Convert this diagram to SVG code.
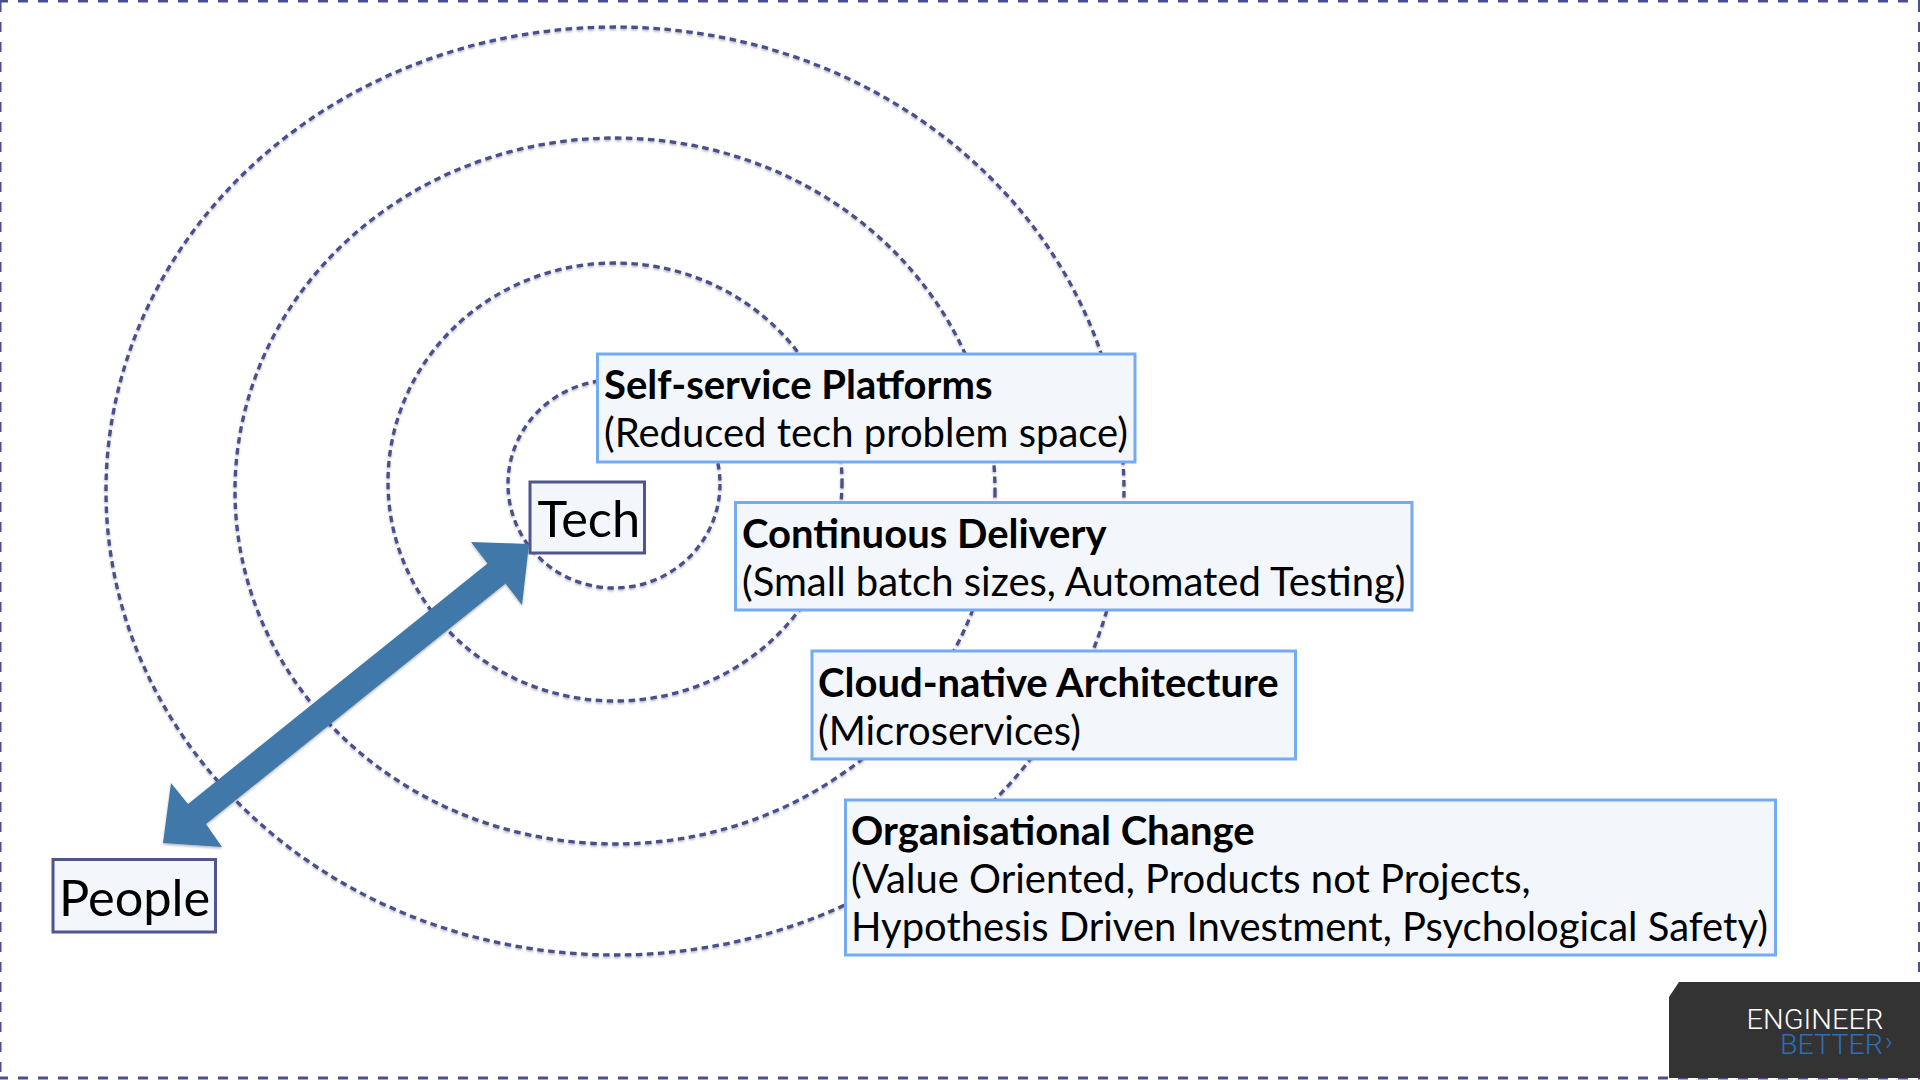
<svg xmlns="http://www.w3.org/2000/svg" width="1920" height="1080" viewBox="0 0 1920 1080">
<style>
.ring{fill:none;stroke:#4a4f8c;stroke-width:3.3;stroke-dasharray:6.5 4.5;filter:url(#s)}
.label{fill:#f3f6fb;stroke:#74abf2;stroke-width:3}
.term{fill:#f3f6fb;stroke:#50558f;stroke-width:3}
text{font-family:"Lato","Carlito","Liberation Sans",sans-serif;fill:#000}
.t{font-size:40px}
.b{font-weight:700}
.big{font-size:50.500px}
.logo{font-family:"Roboto","Liberation Sans",sans-serif;font-weight:300;font-size:28px}
</style>
<defs>
<filter id="s" x="-10%" y="-10%" width="120%" height="120%"><feDropShadow dx="0" dy="1.5" stdDeviation="1.2" flood-color="#000" flood-opacity="0.3"/></filter>
</defs>
<rect width="1920" height="1080" fill="#fff"/>
<path d="M-2,1H1920M0,2V1080M-2,1078H1920M1919.500,2V1080" fill="none" stroke="#4a4f8f" stroke-width="3" stroke-dasharray="10 10"/>
<g id="connectors">
<ellipse class="ring" cx="615" cy="491" rx="509" ry="464"/>
<ellipse class="ring" cx="615" cy="491" rx="380" ry="353"/>
<ellipse class="ring" cx="615" cy="482" rx="227" ry="219"/>
<ellipse class="ring" cx="614" cy="484" rx="106" ry="104"/>
<polygon points="529,544 522,605 505.500,583.500 206,824 222,847 163,843 171,783 188,804 487.500,563.500 471,542" fill="#4079a9" filter="url(#s)"/>
</g>
<g id="tech"><rect class="term" x="530" y="482" width="114.500" height="71"/><text class="big" x="537.500" y="537">Tech</text></g>
<g id="people"><rect class="term" x="53" y="859.500" width="162.500" height="72.500"/><text class="big" x="59" y="916">People</text></g>
<g id="self-service"><rect class="label" x="597.500" y="354" width="537.500" height="108"/><text class="t b" x="604" y="399">Self-service Platforms</text><text class="t" x="604" y="447">(Reduced tech problem space)</text></g>
<g id="continuous"><rect class="label" x="735.500" y="502.500" width="676.500" height="107.500"/><text class="t b" x="742" y="548">Continuous Delivery</text><text class="t" x="742" y="596">(Small batch sizes, Automated Testing)</text></g>
<g id="cloud"><rect class="label" x="812" y="651" width="483.500" height="108"/><text class="t b" x="818" y="697">Cloud-native Architecture</text><text class="t" x="818" y="745">(Microservices)</text></g>
<g id="org"><rect class="label" x="845.500" y="800" width="930" height="155"/><text class="t b" x="851" y="845">Organisational Change</text><text class="t" x="851" y="893">(Value Oriented, Products not Projects,</text><text class="t" x="851" y="941">Hypothesis Driven Investment, Psychological Safety)</text></g>
<g id="logo"><polygon points="1669,997 1679,982 1920,982 1920,1078 1669,1078" fill="#333"/><text class="logo" x="1746.500" y="1029" style="fill:#fff" textLength="137" lengthAdjust="spacingAndGlyphs">ENGINEER</text><text class="logo" y="1054" style="fill:#2f6db5"><tspan x="1780" textLength="103" lengthAdjust="spacingAndGlyphs">BETTER</tspan><tspan x="1885" y="1050" font-size="26">›</tspan></text></g>
</svg>
